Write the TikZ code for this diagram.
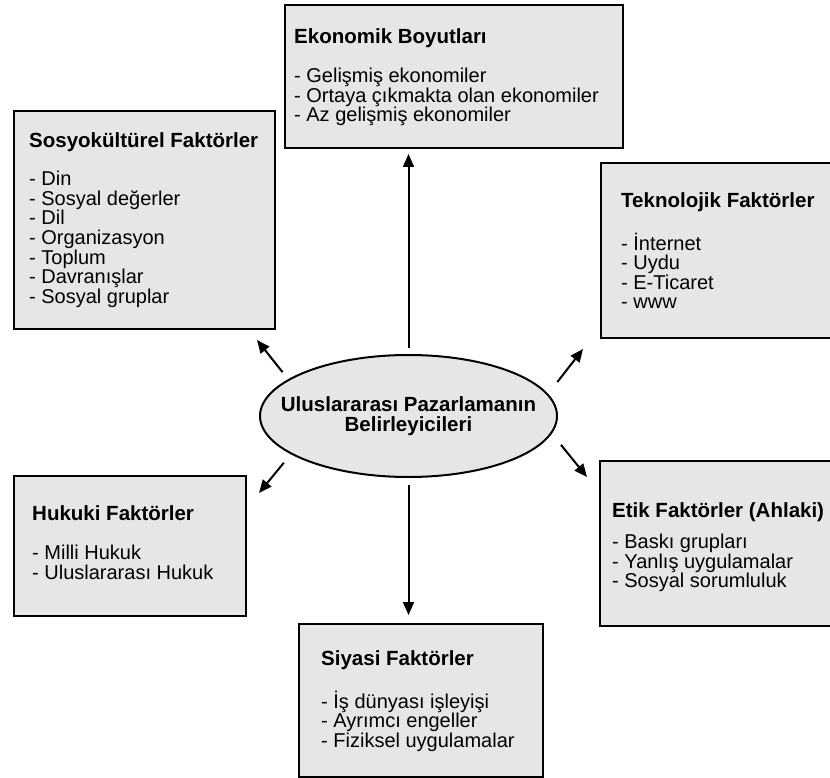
\documentclass[tikz,border=0pt]{standalone}
\usepackage{fontspec}
\setmainfont{Liberation Sans}
\usetikzlibrary{shapes.geometric,arrows.meta}

\begin{document}
\begin{tikzpicture}[x=1pt,y=-1pt,
		kutu/.style={draw=black,line width=2pt,fill=kutugri,inner sep=0pt,anchor=north west},
		yazi/.style={anchor=north west,inner sep=0pt,align=left,font=\fontsize{20}{19.6}\selectfont},
		ok/.style={line width=2pt,-{Triangle[length=13pt,width=11pt]}}]
		\definecolor{kutugri}{HTML}{E6E6E6}
		\useasboundingbox (0,0) rectangle (830,778);
		% Kutular
		\node[kutu,minimum width=338pt,minimum height=143pt] (eko) at (284,4) {};
		\node[kutu,minimum width=261pt,minimum height=218pt] (sosyo) at (13,110) {};
		\node[kutu,minimum width=232pt,minimum height=175pt] (tekno) at (600,162) {};
		\node[kutu,minimum width=232pt,minimum height=140pt] (hukuk) at (13,475) {};
		\node[kutu,minimum width=233pt,minimum height=165pt] (etik) at (599,460) {};
		\node[kutu,minimum width=244pt,minimum height=153pt] (siyasi) at (298,623) {};
		% Merkez
		\node[ellipse,draw=black,line width=2pt,fill=kutugri,inner sep=0pt,
			minimum width=297pt,minimum height=122pt] (ell) at (408.5,416) {};
		\node[align=center,inner sep=0pt,font=\bfseries\fontsize{20.5}{19.6}\selectfont] (ellT) at (ell.center)
			{Uluslararası Pazarlamanın\\Belirleyicileri};
		% Yazilar
		\node[yazi] (ekoT) at (294,28.5) {\textbf{\fontsize{20.5}{19.6}\selectfont Ekonomik Boyutları}\\[19.5pt]
			- Gelişmiş ekonomiler\\- Ortaya çıkmakta olan ekonomiler\\- Az gelişmiş ekonomiler};
		\node[yazi] (sosyoT) at (29,132) {\textbf{\fontsize{20.5}{19.6}\selectfont Sosyokültürel Faktörler}\\[19pt]
			- Din\\- Sosyal değerler\\- Dil\\- Organizasyon\\- Toplum\\- Davranışlar\\- Sosyal gruplar};
		\node[yazi] (teknoT) at (621,192.5) {\textbf{\fontsize{20.5}{19.6}\selectfont Teknolojik Faktörler}\\[20pt]
			- İnternet\\- Uydu\\- E-Ticaret\\- www};
		\node[yazi] (hukukT) at (32,505.5) {\textbf{\fontsize{20.5}{19.6}\selectfont Hukuki Faktörler}\\[19.5pt]
			- Milli Hukuk\\- Uluslararası Hukuk};
		\node[yazi] (etikT) at (612,502.5) {\textbf{\fontsize{20.5}{19.6}\selectfont Etik Faktörler (Ahlaki)}\\[11.5pt]
			- Baskı grupları\\- Yanlış uygulamalar\\- Sosyal sorumluluk};
		\node[yazi] (siyasiT) at (321,650.5) {\textbf{\fontsize{20.5}{19.6}\selectfont Siyasi Faktörler}\\[20pt]
			- İş dünyası işleyişi\\- Ayrımcı engeller\\- Fiziksel uygulamalar};
		% Oklar
		\coordinate (okSol) at (257,340);
		\coordinate (okSolAlt) at (259,493);
		\coordinate (okSag) at (583,349);
		\coordinate (okSagAlt) at (587,477);
		\draw[ok,shorten <=6pt,shorten >=5pt] (ell.north) -- (ell.north |- eko.south);
		\draw[ok,shorten <=7pt,shorten >=8pt] (ell.south) -- (ell.south |- siyasi.north);
		\draw[ok,shorten <=9pt] (ell.163) -- (okSol);
		\draw[ok,shorten <=11pt] (ell.198) -- (okSolAlt);
		\draw[ok,shorten <=15pt] (ell.9) -- (okSag);
		\draw[ok,shorten <=14.5pt] (ell.353) -- (okSagAlt);
	\end{tikzpicture}
\end{document}
